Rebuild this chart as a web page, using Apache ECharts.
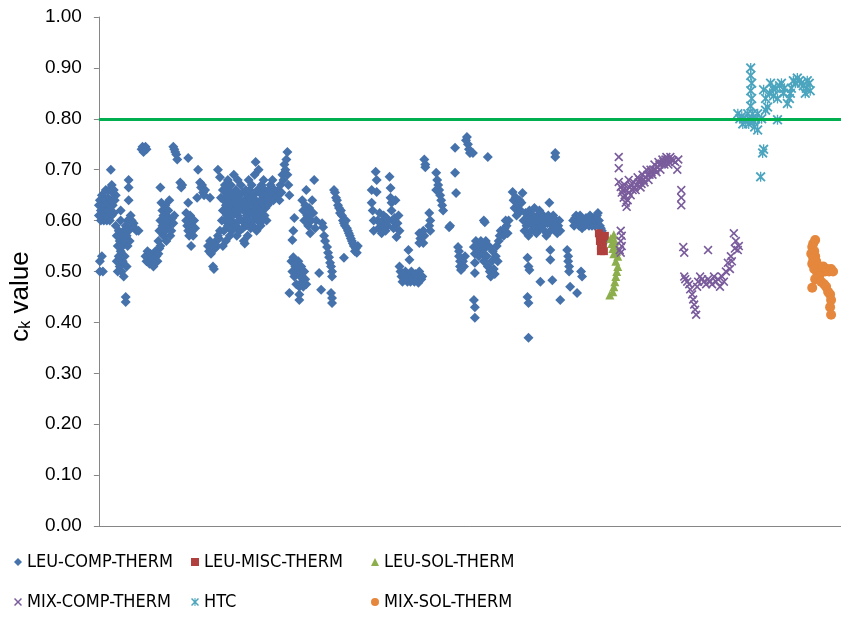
<!DOCTYPE html>
<html>
<head>
<meta charset="utf-8">
<script src="https://cdn.jsdelivr.net/npm/echarts@6/dist/echarts.min.js"></script>
<style>
  html, body { margin: 0; padding: 0; background: #fff; }
  #chart { width: 841px; height: 617px; }
</style>
</head>
<body>
<div id="chart"></div>
<script>
// Benchmark case index (x) and ck value (y) for each benchmark family
const leuCompTherm = [
  [0,.61],[0,.63],[1,.50],[1,.52],[1,.64],[2,.60],[2,.62],[3,.53],[3,.61],[3,.65],[4,.63],[4,.50],[5,.60],[5,.62],[6,.64],[6,.61],[7,.63],[7,.66],[8,.60],[8,.62],[9,.645],[9,.61],[10,.63],[10,.66],[11,.60],[11,.62],[12,.70],[12,.64],[13,.67],[13,.61],[14,.655],[14,.63],[15,.66],[15,.615],[16,.64],[17,.65],
  [17,.59],[18,.57],[18,.52],[19,.55],[19,.50],[20,.58],[20,.53],[21,.56],[21,.51],[22,.60],[22,.54],[22,.62],[23,.57],[23,.50],[24,.55],[24,.52],[25,.58],[25,.49],[26,.56],[26,.53],[27,.59],[27,.45],[27,.44],[28,.57],[28,.51],[29,.55],[29,.60],[30,.58],[30,.68],[30,.665],[30,.64],[31,.56],[32,.61],[33,.60],[34,.59],[35,.595],[36,.585],[38,.58],[40,.58],
  [43,.74],[44,.745],[45,.735],[46,.74],[47,.745],[48,.74],
  [47,.53],[48,.52],[49,.54],[50,.53],[51,.515],[52,.535],[53,.52],[54,.53],[55,.51],[56,.525],[57,.54],[58,.53],[59,.52],[60,.535],[61,.545],[62,.55],
  [60,.56],[61,.58],[62,.60],[62,.665],[63,.635],[64,.59],[64,.62],[65,.57],[65,.61],[66,.60],[67,.58],[67,.63],[68,.56],[68,.61],[69,.59],[70,.62],[71,.64],[72,.57],[72,.60],[73,.58],[74,.605],[75,.595],[76,.61],
  [75,.745],[76,.74],[77,.735],[78,.73],[79,.72],
  [82,.675],[83,.665],[84,.67],[88,.615],[88,.60],[89,.59],[90,.723],[90,.635],[90,.58],[91,.57],[91,.60],[92,.61],[93,.59],[93,.55],[94,.58],[95,.57],[96,.60],[97,.585],
  [99,.645],[100,.70],[102,.675],[103,.665],[104,.67],[105,.655],[106,.65],[107,.66],
  [110,.55],[111,.54],[112,.56],[113,.535],[114,.55],[115,.51],[116,.505],[117,.545],[118,.56],[119,.55],[120,.57],[121,.565],[122,.58],
  [112,.645],[120,.70],[122,.685],[123,.645],[124,.60],[125,.55],[147,.555],
  [125,.66],[125,.62],[126,.64],[126,.58],[127,.67],[127,.60],[128,.63],[128,.56],[129,.65],[129,.61],[130,.68],[130,.59],[131,.62],[131,.66],[132,.64],[132,.57],[133,.60],[133,.67],[134,.63],[134,.58],[135,.65],[135,.61],[136,.595],[136,.69],[137,.64],[137,.62],
  [138,.66],[138,.59],[139,.63],[139,.57],[140,.61],[140,.68],[141,.65],[141,.60],[142,.62],[142,.58],[143,.64],[143,.67],[144,.60],[144,.63],[145,.585],[145,.655],[146,.62],[146,.56],[147,.64],[147,.60],[148,.59],[148,.66],[149,.63],[149,.61],[150,.57],[150,.65],
  [151,.62],[151,.68],[152,.66],[152,.60],[153,.64],[153,.585],[154,.615],[154,.67],[155,.63],[155,.59],[156,.65],[156,.60],[157,.61],[157,.69],[158,.715],[158,.64],[159,.62],[159,.58],[160,.66],[160,.60],[161,.63],[161,.70],[162,.61],[162,.655],[163,.64],[163,.59],
  [164,.67],[164,.62],[165,.65],[165,.60],[166,.63],[166,.68],[167,.66],[167,.61],[168,.64],[168,.625],[169,.655],[169,.60],[170,.645],[170,.63],[171,.66],[171,.64],[172,.65],[172,.635],[173,.67],[173,.64],[174,.655],[174,.645],[175,.68],[175,.66],[176,.65],[176,.64],[177,.66],[178,.645],
  [180,.65],[181,.66],[182,.64],[183,.67],[184,.655],[185,.69],[186,.68],[187,.71],[188,.70],[189,.72],[190,.735],[190,.69],[191,.67],[192,.65],
  [192,.458],[194,.52],[195,.50],[196,.528],[197,.49],[198,.51],[199,.475],[200,.50],[201,.52],[202,.47],[203,.49],[204,.51],[205,.48],[206,.47],[207,.50],[208,.485],[209,.475],
  [195,.562],[197,.605],[196,.58],[202,.444],[202,.455],
  [205,.64],[206,.62],[207,.60],[208,.63],[209,.66],[210,.61],[211,.59],[212,.625],[213,.575],[214,.60],[215,.64],[216,.615],[217,.68],[218,.585],[219,.60],
  [222,.497],[224,.464],[225,.595],[226,.587],[227,.57],[228,.56],[230,.548],[231,.537],[232,.528],[233,.517],[234,.51],[235,.50],[235,.49],[234,.458],[235,.448],[235,.438],
  [237,.66],[238,.655],[239,.645],[240,.64],[241,.63],[242,.625],[243,.615],[244,.62],[245,.61],[246,.60],[247,.595],[248,.59],[249,.60],[250,.585],[251,.58],[252,.575],[253,.57],[254,.565],[255,.56],[256,.555],[257,.55],[258,.54],[259,.545],[260,.537],[261,.55],[247,.527],
  [275,.66],[275,.635],[276,.62],[277,.60],[277,.58],[279,.696],[280,.68],[280,.656],[281,.60],[282,.585],[283,.615],[284,.595],[285,.575],[286,.60],[287,.61],[288,.59],[289,.58],[290,.605],[291,.59],[292,.60],[293,.686],[294,.664],[294,.645],[295,.635],[295,.62],[296,.60],[297,.585],[298,.605],[299,.64],[300,.568],[301,.595],[302,.61],[303,.58],
  [303,.51],[304,.50],[305,.49],[306,.48],[307,.495],[308,.485],[309,.50],[310,.49],[311,.48],[312,.542],[313,.523],[313,.49],[314,.48],[315,.50],[316,.485],[317,.49],[318,.48],[319,.495],[320,.485],[321,.49],[322,.478],[323,.50],[324,.49],[325,.485],[326,.49],
  [328,.72],[329,.71],[329,.705],[340,.694],[341,.68],[342,.67],[343,.66],[344,.65],[345,.64],[346,.63],[347,.62],[340,.66],
  [333,.615],[334,.60],[333,.59],[334,.58],[327,.58],[328,.57],[327,.556],[323,.575],[324,.565],[323,.556],[353,.587],[354,.59],
  [359,.743],[359,.694],[360,.654],[362,.548],[363,.54],[363,.53],[364,.52],[364,.51],[365,.503],[367,.52],[368,.51],[369,.53],
  [370,.758],[371,.764],[372,.75],[373,.74],[374,.733],[377,.733],[392,.725],
  [378,.548],[379,.535],[379,.517],[379,.497],[378,.444],[379,.43],[379,.409],
  [380,.56],[381,.545],[382,.55],[383,.53],[384,.54],[385,.56],[386,.55],[387,.535],[388,.52],[389,.545],[390,.56],[391,.53],[392,.51],[393,.55],[394,.50],[395,.49],[396,.52],[397,.54],[398,.505],[399,.495],[400,.53],[401,.55],[402,.52],[403,.56],[404,.57],[405,.58],
  [388,.60],[389,.597],[408,.57],[409,.585],[410,.60],[411,.59],[412,.575],[413,.60],
  [417,.656],[418,.64],[419,.625],[420,.646],[421,.61],[422,.63],[423,.615],[424,.64],[425,.62],[426,.635],[427,.654],
  [428,.60],[429,.58],[430,.615],[431,.59],[432,.605],[433,.57],[434,.62],[435,.595],[436,.58],[437,.61],[438,.60],[439,.625],[440,.59],[441,.575],[442,.61],[443,.60],[444,.62],[445,.585],[446,.60],[447,.59],[448,.61],[449,.58],[450,.60],[451,.57],[452,.595],[453,.61],[454,.635],[455,.58],[456,.60],[457,.59],[458,.61],[459,.595],[460,.58],[461,.60],[462,.575],[463,.59],[464,.60],[465,.58],
  [432,.527],[433,.51],[434,.503],[432,.45],[433,.438],[433,.37],[445,.48],[455,.542],[455,.523],[457,.483],[460,.733],[460,.725],[465,.444],
  [472,.542],[473,.53],[473,.52],[474,.51],[474,.50],[475,.47],[482,.458],[487,.49],[486,.50],
  [478,.60],[479,.59],[480,.605],[481,.61],[482,.595],[483,.60],[484,.59],[485,.61],[486,.60],[487,.585],[488,.595],[489,.60],[490,.59],[491,.605],[492,.595],[493,.60],[494,.59],[495,.61],[496,.60],[497,.59],[498,.605],[499,.595],[500,.59],[501,.60],[502,.61],[503,.615],[504,.60],[505,.59],[506,.585],[507,.58],[508,.57],[509,.565],[510,.56]
];

const leuMiscTherm = [
  [504,.575],[505,.57],[505,.56],[506,.55],[506,.54],[507,.565],[507,.545],[508,.555],[509,.54],[510,.57]
];

const leuSolTherm = [
  [519,.572],[516,.565],[520,.56],[517,.555],[521,.55],[518,.545],[522,.54],[519,.535],[523,.53],[521,.52],[523,.51],[522,.50],[521,.49],[520,.48],[519,.47],[518,.46],[515,.454]
];

const mixCompTherm = [
  [524,.725],[524,.703],[524,.676],[526,.666],[527,.655],[528,.66],[529,.645],[530,.65],[531,.635],[532,.627],[533,.64],[534,.655],[535,.665],[536,.67],[538,.66],[540,.665],[542,.67],[544,.675],[545,.68],[547,.672],[549,.68],[551,.685],[553,.69],[555,.69],[557,.695],[559,.70],[561,.70],[563,.705],[565,.71],[567,.712],[569,.715],[571,.72],[573,.72],[575,.715],[577,.72],[579,.718],[581,.715],[583,.70],[584,.72],
  [530,.67],[532,.66],[534,.68],[536,.65],[539,.675],[541,.66],[543,.685],[546,.665],[548,.69],[550,.675],[552,.70],[554,.68],[556,.70],[558,.69],[560,.71],[562,.695],[564,.715],[566,.70],[568,.72],[570,.71],[572,.725],[574,.71],[576,.725],
  [587,.66],[587,.645],[587,.63],
  [526,.58],[527,.57],[526,.56],[527,.55],[525,.542],[526,.537],
  [589,.548],[590,.537],[590,.49],[591,.485],[593,.48],[595,.475],[596,.465],[598,.455],[599,.445],[600,.435],[601,.425],[602,.415],[603,.47],[604,.48],[606,.49],[608,.485],[610,.48],[612,.475],[614,.542],[614,.485],[616,.48],[618,.475],[620,.49],[622,.48],[624,.485],[626,.47],[628,.49],[630,.48],[632,.50],[634,.517],[636,.505],[637,.53],[638,.52],[640,.575],[641,.545],[642,.56],[644,.542],[645,.55]
];

const htc = [
  [644,.81],[646,.80],[648,.805],[649,.79],[650,.80],[652,.795],[654,.81],[655,.79],[656,.80],[657,.90],[657,.885],[658,.87],[657,.855],[658,.84],[657,.825],[659,.81],[660,.795],[661,.784],[662,.80],[664,.778],[664,.81],[669,.733],[670,.74],[667,.686],[668,.80],[670,.857],[672,.817],[672,.84],[674,.823],[676,.85],[677,.87],[679,.86],[680,.845],[682,.86],[684,.798],[684,.84],[686,.865],[688,.87],[690,.85],[691,.86],[694,.83],[696,.84],[697,.85],[698,.86],[700,.875],[702,.87],[704,.88],[706,.875],[708,.87],[710,.865],[712,.85],[713,.86],[714,.875],[716,.87],[717,.855]
];

const mixSolTherm = [
  [722,.562],[720,.555],[719,.548],[721,.54],[718,.535],[722,.53],[720,.525],[723,.52],[719,.515],[724,.51],[721,.505],[726,.50],[728,.505],[730,.51],[732,.50],[734,.505],[736,.50],[738,.505],[740,.50],[724,.497],[726,.49],[722,.485],[728,.48],[731,.475],[733,.47],[735,.46],[737,.455],[738,.444],[737,.43],[738,.415],[719,.468]
];

const acceptanceLimit = 0.80;
const yTicks = { min: 0, max: 1, step: 0.1 };
const xRange = { min: 0, max: 748 };

// Marker shapes: thin cross and asterisk built as filled outlines
const crossPath = 'path://M0,1.3 L1.3,0 L5,3.7 L8.7,0 L10,1.3 L6.3,5 L10,8.7 L8.7,10 L5,6.3 L1.3,10 L0,8.7 L3.7,5 Z';
const starPath = 'path://M0,1.3 L1.3,0 L5,3.7 L8.7,0 L10,1.3 L6.3,5 L10,8.7 L8.7,10 L5,6.3 L1.3,10 L0,8.7 L3.7,5 Z M4.35,0 L5.65,0 L5.65,10 L4.35,10 Z';

const narrowFont = '"Liberation Sans Narrow", "Arial Narrow", "DejaVu Sans Condensed", "Liberation Sans", sans-serif';
const baseFont = '"Liberation Sans", Arial, sans-serif';

const chart = echarts.init(document.getElementById('chart'), null, { renderer: 'canvas' });

function scatter(name, data, symbol, size, color) {
  return {
    name, type: 'scatter', data, symbol, symbolSize: size,
    itemStyle: { color, opacity: 1 },
    emphasis: { disabled: true }
  };
}

// Three legend columns, two rows each
const legendCommon = {
  orient: 'vertical',
  itemWidth: 8, itemHeight: 8, itemGap: 20,
  padding: 0,
  selectedMode: false,
  textStyle: { fontFamily: narrowFont, fontSize: 18, color: '#000', lineHeight: 20 },
  top: 552
};

chart.setOption({
  animation: false,
  grid: { left: 93, right: 0, top: 17, bottom: 91, containLabel: false },
  xAxis: {
    type: 'value', min: xRange.min, max: xRange.max,
    axisLine: { show: true, lineStyle: { color: '#868686', width: 1 } },
    axisTick: { show: false }, axisLabel: { show: false }, splitLine: { show: false }
  },
  yAxis: {
    type: 'value', min: yTicks.min, max: yTicks.max, interval: yTicks.step,
    name: 'c{k|k} value',
    nameLocation: 'middle', nameGap: 42,
    nameTextStyle: {
      fontFamily: baseFont, fontSize: 26, color: '#000', padding: [0, 50, 0, 0],
      rich: { k: { fontFamily: baseFont, fontSize: 16, verticalAlign: 'bottom', padding: [9, 0, 0, 0] } }
    },
    axisLine: { show: true, lineStyle: { color: '#868686', width: 1 } },
    axisTick: { show: true, inside: false, length: 5, lineStyle: { color: '#868686' } },
    axisLabel: { formatter: v => v.toFixed(2), fontFamily: baseFont, fontSize: 19, color: '#000', margin: 17 },
    splitLine: { show: false }
  },
  legend: [
    Object.assign({ left: 14, data: ['LEU-COMP-THERM', 'MIX-COMP-THERM'] }, legendCommon),
    Object.assign({ left: 191, data: ['LEU-MISC-THERM', 'HTC'] }, legendCommon),
    Object.assign({ left: 371, data: ['LEU-SOL-THERM', 'MIX-SOL-THERM'] }, legendCommon)
  ],
  series: [
    Object.assign(scatter('LEU-COMP-THERM', leuCompTherm, 'diamond', 10, '#4672AC'), {
      markLine: {
        silent: true, symbol: 'none', label: { show: false },
        lineStyle: { color: '#00B050', width: 3, type: 'solid' },
        data: [{ yAxis: acceptanceLimit }]
      }
    }),
    scatter('LEU-MISC-THERM', leuMiscTherm, 'rect', 8, '#B0403D'),
    scatter('LEU-SOL-THERM', leuSolTherm, 'triangle', 9, '#8DAE4C'),
    scatter('MIX-COMP-THERM', mixCompTherm, crossPath, 9, '#7A5C9C'),
    scatter('HTC', htc, starPath, 10, '#4BA5BE'),
    scatter('MIX-SOL-THERM', mixSolTherm, 'circle', 10, '#E5873C')
  ]
});
</script>
</body>
</html>
